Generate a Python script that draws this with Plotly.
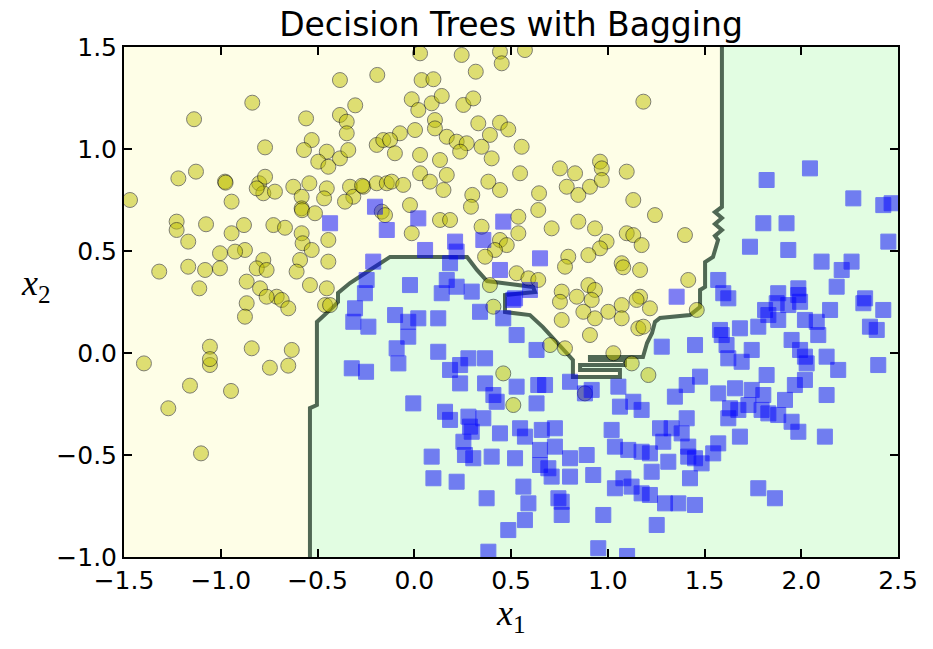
import plotly.graph_objects as go

# ---------------- data ----------------
title_text = "Decision Trees with Bagging"
x_ticks = [-1.5, -1.0, -0.5, 0.0, 0.5, 1.0, 1.5, 2.0, 2.5]
y_ticks = [-1.0, -0.5, 0.0, 0.5, 1.0, 1.5]
x_range = [-1.5, 2.5]
y_range = [-1.0, 1.5]

# class 0 (yellow circles)
yellow_x = [
    -0.384, -0.191, -0.837, -1.138, -0.559, -0.305, -0.384, -0.349, -0.349, -0.771,
    -0.530, -0.570, -0.452, -0.496, -0.444, -0.384, -0.341, -0.194, -0.160, -1.219,
    -1.128, -0.978, -0.975, -0.801, -0.771, -0.780, -0.720, -0.814, -0.625, -0.542,
    -0.452, -0.466, -0.582, -0.582, -0.580, -0.513, -0.332, -0.315, -0.358, -0.263,
    -0.270, -0.194, -0.142, -0.168, -1.469, -0.944, -1.228, -1.228, -1.076, -1.168,
    -0.880, -0.944, -0.728, -0.668, -0.582, -0.577, -0.530, -0.444, -0.444, -0.590,
    -0.608, -0.875, -0.926, -1.004, -0.780, -0.814, -0.763, -1.004, -1.081, -1.168,
    -1.318, -1.111, -0.866, -0.539, -0.452, -0.797, -0.711,
    -0.866, -0.875, -0.763, -0.685, -0.651, -0.461, -0.435, -1.056, -1.056, -1.056,
    -0.840, -0.633, -0.651, -0.746, -1.397, -1.159, -0.947, -1.271, -1.102,
    0.030, 0.245, 0.443, 0.572, 0.452, 0.318, 0.038, 0.099, -0.013, 0.021,
    0.090, 0.142, 0.254, 0.305, 0.107, 0.107, 0.331, 0.443, 0.486, 0.391,
    0.004, -0.074, -0.125, -0.100, 0.168, 0.219, 0.271, 0.237, 0.030, 0.133,
    0.348, 0.400, 0.555, 0.547, 0.030, 0.081, 0.168, 0.151, -0.117, -0.057,
    0.383, 0.443, 0.300, 0.293, -0.022, 0.645, 0.641, 0.133, 0.185, -0.013,
    -0.151, 0.538, 0.538, 0.348, 0.443, 0.478, 0.417, 0.366, 0.710, 0.753,
    0.831, 0.788, 0.848, 0.908, 0.960, 0.969, 0.969, 1.098, 1.132, 1.184,
    0.848, 0.934, 0.994, 0.960, 0.900, 0.796, 0.779, 1.098, 1.132, 1.175,
    1.072, 1.080, 1.167, 0.529, 0.590, 0.641, 0.391, 0.762, 0.900, 0.934,
    0.840, 1.167,
    1.244, 1.399, 1.416,
    0.409, 0.460, 0.512, 0.882, 0.702, 0.779, 0.762, 0.874, 0.917, 0.934,
    0.908, 1.003, 1.072, 1.072, 1.149, 1.158, 1.184, 1.029, 1.124, 1.210,
    1.218, 1.460, 0.753,
]
yellow_y = [
    1.338, 1.363, 1.227, 1.146, 1.150, 1.214, 1.167, 1.134, 1.077, 1.008,
    1.044, 0.995, 0.987, 0.938, 0.913, 0.954, 0.995, 1.020, 1.044, 0.856,
    0.889, 0.840, 0.835, 0.832, 0.864, 0.783, 0.791, 0.807, 0.815, 0.832,
    0.807, 0.758, 0.766, 0.709, 0.700, 0.685, 0.815, 0.766, 0.742, 0.815,
    0.820, 0.832, 0.832, 0.693, 0.750, 0.742, 0.644, 0.603, 0.631, 0.546,
    0.627, 0.587, 0.627, 0.614, 0.587, 0.538, 0.505, 0.554, 0.448, 0.456,
    0.399, 0.505, 0.497, 0.489, 0.456, 0.415, 0.407, 0.415, 0.407, 0.423,
    0.399, 0.317, 0.350, 0.333, 0.317, 0.317, 0.276,
    0.244, 0.178, 0.276, 0.260, 0.219, 0.235, 0.235, 0.031, -0.059, -0.030,
    0.023, 0.015, -0.062, -0.072, -0.051, -0.160, -0.186, -0.271, -0.492,
    1.469, 1.461, 1.477, 1.485, 1.420, 1.379, 1.338, 1.342, 1.244, 1.191,
    1.224, 1.260, 1.216, 1.248, 1.142, 1.101, 1.126, 1.129, 1.096, 1.069,
    1.093, 1.077, 1.044, 0.979, 1.060, 1.036, 1.028, 0.987, 0.971, 0.946,
    1.011, 0.954, 1.011, 0.881, 0.881, 0.840, 0.873, 0.799, 0.840, 0.824,
    0.840, 0.799, 0.775, 0.717, 0.725, 0.783, 0.701, 0.652, 0.652, 0.587,
    0.676, 0.668, 0.587, 0.619, 0.554, 0.529, 0.505, 0.472, 0.611, 0.905,
    0.881, 0.815, 0.775, 0.815, 0.938, 0.905, 0.848, 0.889, 0.750, 1.232,
    0.644, 0.611, 0.546, 0.513, 0.480, 0.472, 0.423, 0.587, 0.578, 0.529,
    0.440, 0.420, 0.407, 0.391, 0.366, 0.358, 0.333, 0.301, 0.333, 0.309,
    0.276, 0.276,
    0.676, 0.578, 0.358,
    0.227, -0.100, -0.255, -0.198, 0.039, 0.023, 0.162, 0.202, 0.260, 0.170,
    0.088, 0.202, 0.235, 0.170, 0.260, 0.121, 0.129, -0.001, -0.051, -0.108,
    0.219, 0.211, 0.251,
]

# class 1 (blue squares)
blue_x = [
    -0.435, -0.203, -0.142, -0.212, -0.246, -0.255,
    -0.306, -0.315, -0.237, -0.323, -0.249,
    0.021, 0.211, 0.219, 0.056, 0.357, 0.460, 0.650, 0.443, 0.185, 0.168,
    0.219, 0.297, -0.022, 0.142, 0.598, 0.521,
    2.045, 1.821, 2.269, 2.424, 2.467, 1.804, 1.924, 1.735, 1.933, 2.450,
    2.105, 2.260, 2.209, 2.183, 1.571, 1.597, 1.623, 1.881, 1.985, 1.985,
    1.356, 2.330,
    -0.099, -0.031, 0.021, -0.031, -0.091, -0.082, 0.124, 0.340, 0.460, 0.529,
    0.512, 0.124, 0.185, 0.237, 0.280, 0.366, 0.237, 0.366, 0.409, 0.426,
    0.529, 0.632, 0.641, 0.676, 0.632, 0.805, 0.917, 0.882, 1.055, -0.005,
    0.159, 0.185, 0.280, 0.288, 0.357, 0.297, 0.443, 0.547, 0.572, 0.659,
    0.727, 0.254, 0.262, 0.305, 0.400, 0.521, 0.650, 0.727, 0.650, 0.693,
    0.710, 0.805, 0.805, 0.891, 0.925, 0.090, 0.099, 0.219, 0.374, 0.564,
    0.590, 0.572, 0.745, 0.762, 0.762, 0.486, 0.383, 0.951, 0.977, 1.020,
    1.037, 1.106, 1.175, 1.081, 1.037, 1.123, 1.175, 1.063, 1.132, 1.175,
    1.100,
    1.873, 1.933, 1.994, 1.813, 1.830, 1.881, 2.019, 2.080, 2.088, 2.149,
    2.321, 2.424, 2.355, 2.390, 2.398, 1.778, 1.683, 1.580, 1.589, 1.950,
    1.994, 2.019, 2.028, 2.131, 2.191, 2.131, 2.122, 1.279, 1.451, 1.614,
    1.623, 1.692, 1.744, 1.821, 1.967, 2.019, 1.477, 1.408, 1.347, 1.571,
    1.658, 1.744, 1.804, 1.916, 1.632, 1.675, 1.727, 1.795, 1.830, 1.881,
    1.623, 1.950, 1.985, 1.683, 1.408, 1.270, 1.330, 1.382, 1.287, 1.416,
    1.571, 1.545, 1.313, 1.218, 1.227, 1.451, 1.485, 1.416, 1.425, 1.218,
    1.296, 1.365, 1.451, 1.253, 1.778, 1.864,
]
blue_y = [
    0.636, 0.717, 0.603, 0.448, 0.358, 0.293,
    0.219, 0.153, 0.129, -0.075, -0.092,
    0.660, 0.546, 0.497, 0.505, 0.554, 0.644, 0.464, 0.407, 0.440, 0.358,
    0.325, 0.301, 0.333, 0.293, 0.309, 0.268,
    0.905, 0.848, 0.758, 0.725, 0.734, 0.636, 0.636, 0.521, 0.505, 0.546,
    0.448, 0.448, 0.407, 0.325, 0.358, 0.293, 0.268, 0.293, 0.317, 0.284,
    0.276, 0.268,
    0.186, 0.153, 0.170, 0.080, 0.023, -0.051, 0.170, 0.202, 0.170, 0.088,
    0.260, 0.006, -0.083, -0.059, -0.026, -0.026, -0.149, -0.149, -0.206, -0.239,
    -0.165, 0.015, -0.157, -0.157, -0.247, -0.141, -0.181, -0.198, -0.165, -0.247,
    -0.288, -0.328, -0.312, -0.361, -0.320, -0.386, -0.394, -0.369, -0.410, -0.377,
    -0.369, -0.435, -0.500, -0.516, -0.508, -0.516, -0.475, -0.459, -0.549, -0.565,
    -0.606, -0.516, -0.606, -0.500, -0.598, -0.508, -0.614, -0.631, -0.712, -0.655,
    -0.737, -0.819, -0.712, -0.729, -0.794, -0.868, -0.974, -0.957, -0.794, -0.377,
    -0.459, -0.475, -0.484, -0.614, -0.663, -0.655, -0.688, -0.263, -0.239, -0.279,
    -0.995,
    0.244, 0.235, 0.251, 0.211, 0.186, 0.162, 0.162, 0.153, 0.088, 0.211,
    0.244, 0.211, 0.129, 0.113, -0.059, 0.129, 0.121, 0.113, 0.088, 0.064,
    0.015, -0.018, -0.051, -0.018, -0.083, -0.206, -0.410, 0.031, 0.039, 0.039,
    -0.026, -0.043, 0.015, -0.108, -0.157, -0.132, -0.116, -0.157, -0.214, -0.198,
    -0.173, -0.181, -0.206, -0.230, -0.271, -0.279, -0.255, -0.279, -0.296, -0.304,
    -0.320, -0.337, -0.386, -0.410, -0.320, -0.369, -0.369, -0.394, -0.435, -0.459,
    -0.443, -0.492, -0.533, -0.492, -0.582, -0.516, -0.541, -0.508, -0.614, -0.696,
    -0.737, -0.737, -0.745, -0.843, -0.663, -0.712,
]

# decision boundary (from bottom edge to top edge)
boundary_x = [-0.539, -0.539, -0.503, -0.503, -0.420, -0.394, -0.394, -0.332, -0.229, -0.125,
              0.273, 0.324, 0.376, 0.614, 0.624, 0.469, 0.469, 0.598, 0.665, 0.702,
              0.789, 0.820, 0.820, 1.063, 1.063, 0.857, 0.857, 1.089, 1.089, 0.908,
              0.908, 1.182, 1.203, 1.229, 1.244, 1.270, 1.425, 1.477, 1.477, 1.503,
              1.503, 1.544, 1.570, 1.554, 1.590, 1.554, 1.590, 1.554, 1.590, 1.590]
boundary_y = [-1.0, -0.270, -0.255, 0.152, 0.225, 0.250, 0.294, 0.343, 0.407, 0.471,
              0.471, 0.407, 0.353, 0.324, 0.299, 0.284, 0.201, 0.186, 0.127, 0.088,
              0.000, -0.034, -0.118, -0.118, -0.083, -0.083, -0.059, -0.059, -0.034, -0.034,
              -0.020, -0.020, 0.049, 0.098, 0.152, 0.172, 0.186, 0.225, 0.309, 0.324,
              0.446, 0.471, 0.554, 0.574, 0.603, 0.632, 0.662, 0.691, 0.716, 1.5]

# ---------------- styles ----------------
YELLOW_BG = "rgb(254,254,231)"
GREEN_BG = "rgb(226,253,226)"
LINE_COL = "rgb(80,104,84)"
TICK_FONT = dict(family="DejaVu Sans", size=25, color="black")


def fmt(v):
    s = f"{abs(v):.1f}"
    return ("\u2212" + s) if v < 0 else s


fig = go.Figure()

# green (class 1) region
fig.add_trace(go.Scatter(
    x=boundary_x + [x_range[1], x_range[1]],
    y=boundary_y + [y_range[1], y_range[0]],
    mode="lines", fill="toself", fillcolor=GREEN_BG,
    line=dict(width=0), hoverinfo="skip", showlegend=False))

# boundary line
fig.add_trace(go.Scatter(
    x=boundary_x, y=boundary_y, mode="lines",
    line=dict(color=LINE_COL, width=4), hoverinfo="skip", showlegend=False))

fig.add_trace(go.Scatter(
    x=yellow_x, y=yellow_y, mode="markers",
    marker=dict(symbol="circle", size=15, color="#bfbf00", opacity=0.5,
                line=dict(color="black", width=1)),
    showlegend=False))

fig.add_trace(go.Scatter(
    x=blue_x, y=blue_y, mode="markers",
    marker=dict(symbol="square", size=15, color="#0000ff", opacity=0.5,
                line=dict(color="#0000ff", width=1)),
    showlegend=False))

axis_common = dict(showgrid=False, zeroline=False, showline=True, linecolor="black",
                   linewidth=2, mirror="ticks", ticks="inside", ticklen=8,
                   tickwidth=1.5, tickcolor="black", tickfont=TICK_FONT)

fig.update_layout(
    width=933, height=649,
    margin=dict(l=124, r=35, t=47, b=92),
    paper_bgcolor="white", plot_bgcolor=YELLOW_BG,
    title=dict(text=title_text, x=0.5, xref="paper", y=1 - 24 / 649, yref="container",
               xanchor="center", yanchor="middle",
               font=dict(family="DejaVu Sans", size=33, color="black")),
    xaxis=dict(range=x_range, tickvals=x_ticks, ticktext=[fmt(v) for v in x_ticks],
               **axis_common),
    yaxis=dict(range=y_range, tickvals=y_ticks, ticktext=[fmt(v) for v in y_ticks],
               **axis_common),
    annotations=[
        dict(text="<i>x</i><sub>1</sub>", xref="paper", yref="paper", x=0.5, y=0,
             yshift=-58, xanchor="center", yanchor="middle", showarrow=False,
             font=dict(family="Liberation Serif", size=36, color="black")),
        dict(text="<i>x</i><sub>2</sub>", xref="paper", yref="paper", x=0, y=0.533,
             xshift=-88, xanchor="center", yanchor="middle", showarrow=False,
             font=dict(family="Liberation Serif", size=36, color="black")),
    ],
)

fig.write_html("out.html")
